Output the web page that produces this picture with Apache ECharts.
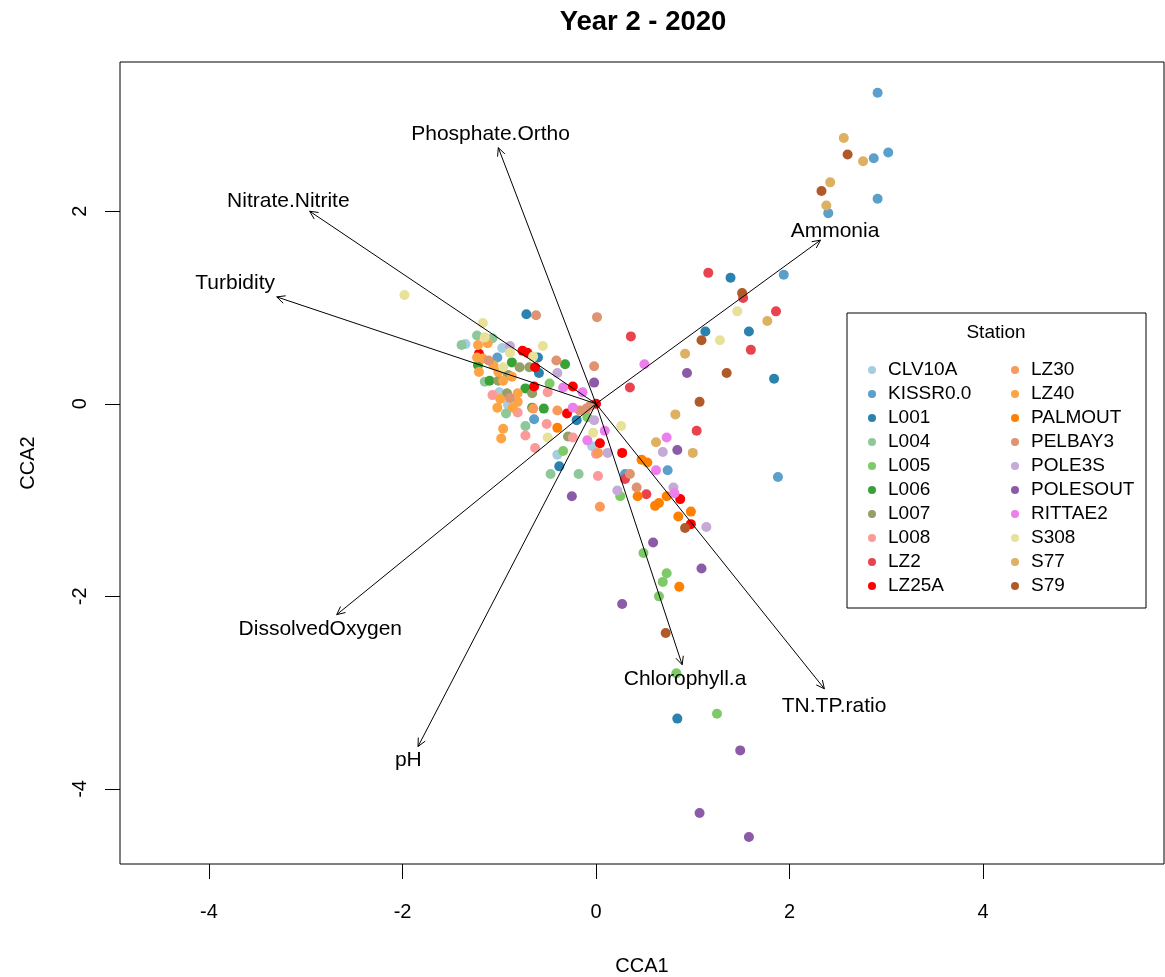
<!DOCTYPE html>
<html>
<head>
<meta charset="utf-8">
<title>Year 2 - 2020</title>
<script src="https://cdn.jsdelivr.net/npm/echarts@6/dist/echarts.min.js"></script>
<style>
  html, body { margin: 0; padding: 0; background: #fff; }
  #chart { width: 1165px; height: 977px; }
</style>
</head>
<body>
<div id="chart"></div>
<script>
// Station names, in legend order
const stations = [
  'CLV10A', 'KISSR0.0', 'L001', 'L004', 'L005', 'L006', 'L007', 'L008', 'LZ2', 'LZ25A',
  'LZ30', 'LZ40', 'PALMOUT', 'PELBAY3', 'POLE3S', 'POLESOUT', 'RITTAE2', 'S308', 'S77', 'S79'
];

const stationColors = [
  '#a6cee3', '#5b9fcb', '#2c82ae', '#8ec89a', '#7fca68', '#38a236', '#959f68', '#fb9a99', '#e8434f', '#fe0000',
  '#f99a5b', '#fea444', '#ff7f00', '#de9470', '#c5a9d6', '#8b5ba8', '#ec7fec', '#e7e19a', '#ddb062', '#b05a2a'
];

// Site scores [CCA1, CCA2] per station
const CLV10A = [[-1.35, 0.62], [-0.97, 0.58], [-1.00, 0.12], [-0.91, -0.01], [-0.04, -0.44], [-0.40, -0.53]];
const KISSR00 = [[2.91, 3.23], [2.87, 2.55], [3.02, 2.61], [2.40, 1.98], [2.91, 2.13], [1.94, 1.34], [1.88, -0.76],
  [0.74, -0.69], [0.30, -0.73], [-0.64, -0.16], [-1.02, 0.48]];
const L001 = [[1.39, 1.31], [1.13, 0.75], [1.58, 0.75], [1.84, 0.26], [0.84, -3.27], [-0.72, 0.93], [-0.60, 0.48],
  [-0.59, 0.32], [-0.38, -0.65], [-0.20, -0.17]];
const L004 = [[-1.23, 0.71], [-1.39, 0.61], [-1.07, 0.68], [-1.15, 0.23], [-0.93, -0.10], [-0.73, -0.23], [-0.18, -0.73], [-0.47, -0.73]];
const L005 = [[-0.34, -0.49], [-0.48, 0.21], [-0.09, -0.14], [0.25, -0.96], [0.49, -1.55], [0.73, -1.76], [0.69, -1.85],
  [0.65, -2.00], [0.83, -2.80], [1.25, -3.22]];
const L006 = [[-0.32, 0.41], [-0.54, -0.05], [-0.87, 0.43], [-1.22, 0.40], [-1.10, 0.24], [-0.73, 0.16], [-0.66, -0.04]];
const L007 = [[-0.79, 0.38], [-0.69, 0.38], [-0.91, 0.30], [-1.01, 0.24], [-0.66, 0.11], [-0.92, 0.11], [-0.29, -0.34]];
const L008 = [[-1.07, 0.09], [-0.81, -0.09], [-0.73, -0.33], [-0.63, -0.46], [-0.50, 0.12], [-0.51, -0.21], [-0.24, -0.35],
  [0.00, -0.52], [0.02, -0.75]];
const LZ2 = [[1.16, 1.36], [1.52, 1.10], [1.86, 0.96], [1.60, 0.56], [0.36, 0.70], [0.35, 0.17], [1.04, -0.28],
  [0.30, -0.78], [0.52, -0.94]];
const LZ25A = [[-0.76, 0.55], [-0.71, 0.53], [-0.63, 0.38], [-0.64, 0.18], [-1.21, 0.52], [-0.24, 0.18], [-0.30, -0.10],
  [0.00, 0.00], [0.04, -0.41], [0.27, -0.51], [0.87, -0.99], [0.98, -1.25]];
const LZ30 = [[-0.40, -0.07], [-0.65, -0.05], [0.02, -0.51], [0.04, -1.07]];
const LZ40 = [[-1.22, 0.61], [-1.12, 0.63], [-1.23, 0.48], [-1.17, 0.47], [-1.06, 0.40], [-1.21, 0.33], [-1.01, 0.33],
  [-0.87, 0.28], [-0.96, 0.24], [-0.81, 0.11], [-0.99, 0.05], [-0.81, 0.02], [-1.02, -0.04], [-0.86, -0.04],
  [-0.96, -0.26], [-0.98, -0.36]];
const PALMOUT = [[-0.40, -0.25], [0.47, -0.58], [0.53, -0.61], [0.43, -0.96], [0.73, -0.96], [0.61, -1.06], [0.65, -1.03],
  [0.98, -1.12], [0.85, -1.17], [0.86, -1.90]];
const PELBAY3 = [[-0.62, 0.92], [0.01, 0.90], [-0.02, 0.39], [-0.41, 0.45], [-1.11, 0.45], [-0.89, 0.06], [-0.17, -0.07],
  [-0.06, -0.02], [-0.10, -0.05], [0.35, -0.73], [0.42, -0.87]];
const POLE3S = [[-0.89, 0.60], [-0.40, 0.32], [-0.02, -0.17], [0.12, -0.51], [0.69, -0.50], [0.80, -0.87], [0.22, -0.90], [1.14, -1.28]];
const POLESOUT = [[-0.02, 0.22], [0.94, 0.32], [0.84, -0.48], [-0.25, -0.96], [0.59, -1.44], [1.09, -1.71], [0.27, -2.08],
  [1.49, -3.60], [1.07, -4.25], [1.58, -4.50]];
const RITTAE2 = [[0.50, 0.41], [-0.34, 0.17], [-0.14, 0.12], [-0.24, -0.04], [0.09, -0.28], [-0.09, -0.38], [0.73, -0.35],
  [0.62, -0.69], [0.81, -0.93]];
const S308 = [[-1.98, 1.13], [-1.17, 0.84], [-1.15, 0.69], [-0.89, 0.53], [-0.65, 0.49], [-0.55, 0.60], [-0.96, 0.38],
  [-0.50, -0.35], [-0.03, -0.30], [0.26, -0.23], [1.46, 0.96], [1.28, 0.66]];
const S77 = [[2.56, 2.76], [2.76, 2.52], [2.42, 2.30], [2.38, 2.06], [1.77, 0.86], [0.92, 0.52], [0.82, -0.11],
  [0.62, -0.40], [1.00, -0.51]];
const S79 = [[2.60, 2.59], [2.33, 2.21], [1.51, 1.15], [1.09, 0.66], [1.35, 0.32], [1.07, 0.02], [0.92, -1.29], [0.72, -2.38]];

const stationScores = [CLV10A, KISSR00, L001, L004, L005, L006, L007, L008, LZ2, LZ25A,
  LZ30, LZ40, PALMOUT, PELBAY3, POLE3S, POLESOUT, RITTAE2, S308, S77, S79];

// Environmental biplot vectors
const envNames = ['Phosphate.Ortho', 'Nitrate.Nitrite', 'Turbidity', 'Ammonia',
  'DissolvedOxygen', 'pH', 'Chlorophyll.a', 'TN.TP.ratio'];
const envArrows = [[-1.01, 2.66], [-2.96, 2.00], [-3.30, 1.11], [2.32, 1.70],
  [-2.68, -2.19], [-1.84, -3.56], [0.89, -2.71], [2.36, -2.96]];
const envLabelPos = [[-1.09, 2.80], [-3.18, 2.10], [-3.73, 1.25], [2.47, 1.79],
  [-2.85, -2.34], [-1.94, -3.70], [0.92, -2.86], [2.46, -3.14]];

// Axis tick values
const xTicks = [-4, -2, 0, 2, 4];
const yTicks = [-4, -2, 0, 2];

const FONT = "'Liberation Sans', Arial, sans-serif";

const chart = echarts.init(document.getElementById('chart'), null, { renderer: 'canvas' });

const scatterSeries = stations.map((name, i) => ({
  name: name,
  type: 'scatter',
  data: stationScores[i],
  symbol: 'circle',
  symbolSize: 10,
  itemStyle: { color: stationColors[i], opacity: 1 },
  z: 2,
  silent: true
}));

// Biplot arrow: shaft from the origin plus an open arrowhead at the tip
function arrowItem(params, api) {
  const o = api.coord([0, 0]);
  const t = api.coord([api.value(0), api.value(1)]);
  const ang = Math.atan2(t[1] - o[1], t[0] - o[0]);
  const len = 9, spread = Math.PI / 7;
  const h1 = [t[0] - len * Math.cos(ang - spread), t[1] - len * Math.sin(ang - spread)];
  const h2 = [t[0] - len * Math.cos(ang + spread), t[1] - len * Math.sin(ang + spread)];
  return {
    type: 'group',
    children: [
      { type: 'line', shape: { x1: o[0], y1: o[1], x2: t[0], y2: t[1] },
        style: { stroke: '#000', lineWidth: 1 } },
      { type: 'polyline', shape: { points: [h1, t, h2] },
        style: { stroke: '#000', lineWidth: 1, fill: null } }
    ]
  };
}

function labelItem(params, api) {
  const p = api.coord([api.value(0), api.value(1)]);
  return {
    type: 'text',
    x: p[0], y: p[1],
    style: {
      text: envNames[params.dataIndex],
      fill: '#000',
      fontSize: 21,
      fontFamily: FONT,
      align: 'center',
      verticalAlign: 'middle'
    }
  };
}

const legendRows = 10;
function legendFor(names, left) {
  return {
    orient: 'vertical',
    left: left,
    top: 355,
    data: names,
    icon: 'circle',
    itemWidth: 8,
    itemHeight: 8,
    itemGap: 4,
    selectedMode: false,
    textStyle: { fontSize: 19, fontFamily: FONT, color: '#000', lineHeight: 20, padding: [0, 0, 0, 7] }
  };
}

const option = {
  animation: false,
  backgroundColor: '#fff',
  grid: {
    left: 120, top: 62, width: 1044, height: 802,
    containLabel: false,
    outerBoundsMode: 'none',
    show: true, borderColor: '#000', borderWidth: 1, backgroundColor: 'transparent'
  },
  xAxis: {
    type: 'value',
    min: -4.92, max: 5.87,
    name: 'CCA1',
    nameLocation: 'middle',
    nameGap: 92,
    nameTextStyle: { fontSize: 20, fontFamily: FONT, color: '#000' },
    axisLine: { show: false, onZero: false },
    splitLine: { show: false },
    axisTick: { show: true, inside: false, length: 15, customValues: xTicks, lineStyle: { color: '#000' } },
    axisLabel: { customValues: xTicks, margin: 38, fontSize: 20, fontFamily: FONT, color: '#000' }
  },
  yAxis: {
    type: 'value',
    min: -4.78, max: 3.55,
    name: 'CCA2',
    nameLocation: 'middle',
    nameGap: 82,
    nameRotate: 90,
    nameTextStyle: { fontSize: 20, fontFamily: FONT, color: '#000' },
    axisLine: { show: false, onZero: false },
    splitLine: { show: false },
    axisTick: { show: true, inside: false, length: 15, customValues: yTicks, lineStyle: { color: '#000' } },
    axisLabel: { customValues: yTicks, rotate: 90, margin: 30, fontSize: 20, fontFamily: FONT, color: '#000' }
  },
  legend: [
    legendFor(stations.slice(0, legendRows), 863),
    legendFor(stations.slice(legendRows), 1006)
  ],
  graphic: [
    { type: 'text', x: 643, y: 22, z: 10,
      style: { text: 'Year 2 - 2020', fontSize: 27.5, fontWeight: 'bold', fontFamily: FONT, fill: '#000',
               align: 'center', verticalAlign: 'middle' } },
    { type: 'rect', shape: { x: 847, y: 313, width: 299, height: 295 }, z: 3,
      style: { fill: '#fff', stroke: '#000', lineWidth: 1 } },
    { type: 'text', x: 996, y: 333, z: 5,
      style: { text: 'Station', fontSize: 19, fontFamily: FONT, fill: '#000',
               align: 'center', verticalAlign: 'middle' } }
  ],
  series: scatterSeries.concat([
    {
      name: 'arrows', type: 'custom', renderItem: arrowItem,
      data: envArrows, z: 3, silent: true
    },
    {
      name: 'arrowLabels', type: 'custom', renderItem: labelItem,
      data: envLabelPos, z: 3, silent: true
    }
  ])
};

chart.setOption(option);
</script>
</body>
</html>
